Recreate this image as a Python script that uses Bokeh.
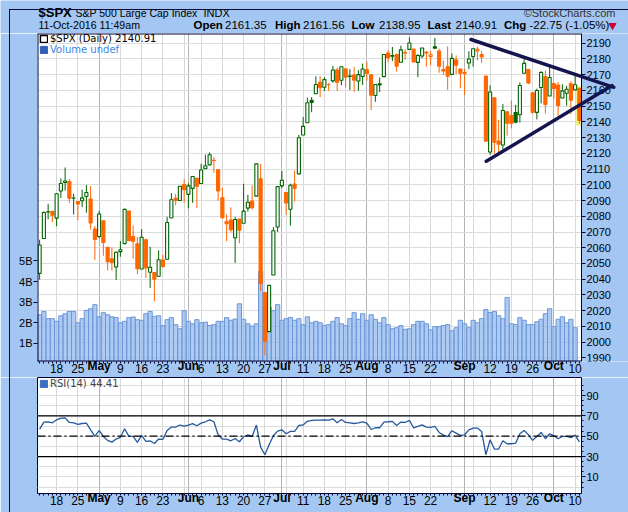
from bokeh.plotting import figure
from bokeh.models import (Range1d, LinearAxis, FixedTicker, PrintfTickFormatter, Span,
                          Legend, LegendItem, Grid, ColumnDataSource, Div)
from bokeh.embed import file_html
from bokeh.resources import INLINE
from bokeh.core.properties import value

# ---------------- data ----------------
trading_days = {
    "04": [12, 13, 14, 15, 18, 19, 20, 21, 22, 25, 26, 27, 28, 29],
    "05": [2, 3, 4, 5, 6, 9, 10, 11, 12, 13, 16, 17, 18, 19, 20, 23, 24, 25, 26, 27, 31],
    "06": [1, 2, 3, 6, 7, 8, 9, 10, 13, 14, 15, 16, 17, 20, 21, 22, 23, 24, 27, 28, 29, 30],
    "07": [1, 5, 6, 7, 8, 11, 12, 13, 14, 15, 18, 19, 20, 21, 22, 25, 26, 27, 28, 29],
    "08": [1, 2, 3, 4, 5, 8, 9, 10, 11, 12, 15, 16, 17, 18, 19, 22, 23, 24, 25, 26, 29, 30, 31],
    "09": [1, 2, 6, 7, 8, 9, 12, 13, 14, 15, 16, 19, 20, 21, 22, 23, 26, 27, 28, 29, 30],
    "10": [3, 4, 5, 6, 7, 10, 11],
}
dates = ["2016-%s-%02d" % (m, d) for m in sorted(trading_days) for d in trading_days[m]]

opens = [2043.72, 2065.92, 2082.89, 2083.10, 2078.83, 2096.05, 2101.52, 2102.09, 2091.49, 2089.37,
         2089.84, 2092.57, 2090.93, 2071.82, 2067.17, 2077.18, 2060.30, 2052.95, 2047.77, 2057.55,
         2062.63, 2083.29, 2067.17, 2062.50, 2046.53, 2065.04, 2044.38, 2044.21, 2041.88, 2052.23,
         2052.65, 2078.93, 2091.44, 2090.06, 2100.13, 2093.94, 2097.71, 2104.07, 2100.83, 2110.18,
         2112.71, 2115.65, 2109.57, 2091.75, 2076.65, 2077.60, 2066.36, 2078.20, 2075.58, 2085.19,
         2089.75, 2092.80, 2103.81, 2031.45, 2006.67, 2042.69, 2073.17, 2099.34, 2095.05, 2084.43,
         2100.42, 2106.97, 2131.72, 2139.50, 2153.81, 2157.88, 2165.13, 2162.04, 2163.79, 2166.10,
         2172.91, 2166.47, 2173.71, 2168.97, 2169.81, 2166.05, 2168.83, 2173.15, 2169.94, 2156.81,
         2163.51, 2168.79, 2183.76, 2182.24, 2182.81, 2177.97, 2183.74, 2186.08, 2186.24, 2177.84,
         2181.90, 2184.24, 2181.58, 2187.81, 2185.09, 2173.29, 2175.10, 2170.19, 2179.45, 2173.56,
         2171.33, 2177.49, 2181.61, 2185.17, 2182.76, 2169.08, 2120.86, 2155.40, 2127.86, 2125.36,
         2146.48, 2143.99, 2145.94, 2144.58, 2170.94, 2173.29, 2158.54, 2146.04, 2161.85, 2168.90,
         2156.51, 2164.33, 2163.37, 2155.15, 2158.22, 2164.19, 2160.39, 2161.35]
highs = [2065.05, 2083.18, 2087.84, 2083.22, 2094.66, 2104.05, 2111.05, 2103.78, 2094.32, 2089.37,
         2096.87, 2099.89, 2099.30, 2073.85, 2083.42, 2077.18, 2060.30, 2060.23, 2057.72, 2064.15,
         2084.87, 2083.29, 2073.99, 2066.79, 2071.88, 2065.69, 2060.61, 2044.21, 2058.35, 2055.58,
         2079.67, 2094.73, 2094.30, 2099.06, 2103.48, 2100.97, 2105.26, 2104.07, 2113.36, 2119.22,
         2120.55, 2117.64, 2109.57, 2098.12, 2081.30, 2085.65, 2079.62, 2078.20, 2100.66, 2093.66,
         2099.71, 2113.32, 2113.32, 2031.45, 2036.09, 2073.13, 2098.94, 2108.71, 2095.05, 2100.72,
         2109.08, 2131.71, 2143.16, 2155.40, 2155.79, 2168.99, 2169.05, 2168.35, 2164.63, 2175.63,
         2174.56, 2175.11, 2173.71, 2173.54, 2174.98, 2172.85, 2177.09, 2178.29, 2170.20, 2163.79,
         2168.19, 2182.87, 2185.44, 2187.66, 2183.41, 2188.45, 2186.28, 2193.81, 2186.24, 2183.08,
         2187.03, 2185.00, 2185.15, 2193.42, 2186.66, 2179.00, 2187.94, 2183.48, 2182.27, 2173.79,
         2173.56, 2184.87, 2186.57, 2187.87, 2184.94, 2169.08, 2163.30, 2155.40, 2141.33, 2151.31,
         2146.48, 2153.61, 2150.80, 2165.11, 2179.99, 2173.75, 2158.54, 2161.13, 2172.40, 2172.67,
         2175.30, 2164.33, 2165.46, 2163.95, 2162.93, 2165.86, 2169.60, 2161.56]
lows = [2039.74, 2065.92, 2078.13, 2076.31, 2073.65, 2091.68, 2096.32, 2088.52, 2081.20, 2077.52,
        2085.80, 2082.31, 2071.62, 2052.28, 2066.11, 2054.89, 2045.55, 2045.77, 2039.45, 2054.31,
        2062.63, 2064.46, 2053.13, 2043.13, 2046.53, 2040.82, 2034.49, 2025.91, 2041.88, 2047.26,
        2052.65, 2078.93, 2087.08, 2090.06, 2088.66, 2085.10, 2088.59, 2085.36, 2100.83, 2110.18,
        2112.71, 2107.73, 2089.96, 2078.46, 2064.10, 2069.80, 2050.37, 2062.84, 2075.58, 2083.02,
        2084.36, 2092.80, 2032.57, 1991.68, 2006.67, 2042.69, 2070.00, 2097.90, 2080.86, 2074.02,
        2089.39, 2106.97, 2131.72, 2139.50, 2146.15, 2157.88, 2155.79, 2159.63, 2159.87, 2164.89,
        2159.75, 2163.24, 2161.95, 2160.18, 2159.07, 2159.74, 2163.49, 2166.21, 2147.58, 2152.80,
        2159.07, 2168.79, 2177.85, 2178.61, 2172.00, 2177.97, 2179.42, 2186.08, 2178.14, 2168.50,
        2180.46, 2175.13, 2175.96, 2186.80, 2171.25, 2169.74, 2160.39, 2170.19, 2170.41, 2161.35,
        2157.09, 2173.59, 2175.10, 2179.07, 2177.49, 2127.81, 2119.12, 2119.86, 2119.90, 2122.36,
        2131.20, 2135.91, 2139.17, 2139.57, 2170.94, 2163.97, 2145.04, 2141.55, 2151.79, 2145.20,
        2156.51, 2154.77, 2144.01, 2155.15, 2150.28, 2144.85, 2160.39, 2138.95]
closes = [2061.72, 2082.42, 2082.78, 2080.73, 2094.34, 2100.80, 2102.40, 2091.48, 2091.58, 2087.79,
          2091.70, 2095.15, 2075.81, 2065.30, 2081.43, 2063.37, 2051.12, 2050.63, 2057.14, 2058.69,
          2084.39, 2064.46, 2064.11, 2046.61, 2066.66, 2047.21, 2047.63, 2040.04, 2052.32, 2048.04,
          2076.06, 2090.54, 2090.10, 2099.06, 2096.95, 2099.33, 2105.26, 2099.13, 2109.41, 2112.13,
          2119.12, 2115.48, 2096.07, 2079.06, 2075.32, 2071.50, 2077.99, 2071.22, 2083.25, 2088.90,
          2085.45, 2113.32, 2037.41, 2000.54, 2036.09, 2070.77, 2098.86, 2102.95, 2088.55, 2099.73,
          2097.90, 2129.90, 2137.16, 2152.14, 2152.43, 2163.75, 2161.74, 2166.89, 2163.78, 2173.02,
          2165.17, 2175.03, 2168.48, 2169.18, 2166.58, 2170.06, 2173.60, 2170.84, 2157.03, 2163.79,
          2164.25, 2182.87, 2180.89, 2181.74, 2175.49, 2185.79, 2184.05, 2190.15, 2178.15, 2182.22,
          2187.02, 2183.87, 2182.64, 2186.90, 2175.44, 2172.47, 2169.04, 2180.38, 2176.12, 2170.95,
          2170.86, 2179.98, 2186.48, 2186.16, 2181.30, 2127.81, 2159.04, 2127.02, 2125.77, 2147.26,
          2139.16, 2139.12, 2139.76, 2163.12, 2177.18, 2164.69, 2146.10, 2159.93, 2171.37, 2151.13,
          2168.27, 2161.20, 2150.49, 2159.73, 2160.77, 2153.74, 2163.66, 2140.91]
close_before_first = 2041.99

volume_bn = [2.39, 2.55, 2.20, 2.20, 2.07, 2.34, 2.44, 2.55, 2.55, 2.00,
             2.20, 2.60, 2.68, 2.88, 2.29, 2.49, 2.39, 2.29, 2.25, 2.00,
             2.07, 2.25, 2.28, 2.15, 2.12, 2.44, 2.55, 2.31, 2.34, 1.86,
             2.15, 2.25, 1.91, 1.71, 2.59, 2.07, 1.95, 2.15, 2.00, 2.03,
             1.87, 1.91, 2.07, 2.07, 2.25, 2.12, 2.18, 2.92, 2.17, 1.95,
             1.84, 1.95, 4.50, 2.75, 2.75, 2.59, 2.88, 2.12, 2.20, 2.26,
             2.12, 2.20, 1.91, 2.29, 2.00, 2.07, 2.00, 1.87, 1.91, 2.07,
             2.25, 1.95, 1.86, 2.20, 2.49, 2.17, 2.44, 2.12, 2.39, 2.17,
             2.00, 2.25, 1.91, 1.71, 1.76, 1.86, 1.68, 1.71, 1.91, 2.07,
             2.07, 1.95, 1.66, 1.81, 1.81, 1.87, 1.91, 1.61, 1.76, 2.12,
             1.95, 1.76, 2.12, 2.00, 2.20, 2.64, 2.50, 2.55, 2.34, 2.20,
             3.23, 1.95, 1.91, 2.25, 2.12, 1.91, 1.91, 2.05, 2.17, 2.44,
             2.68, 1.81, 2.17, 2.29, 2.00, 2.17, 1.76, float("nan")]

rsi14 = [57.0, 63.8, 64.1, 63.2, 66.1, 67.7, 68.0, 63.5, 63.2, 61.6,
         62.5, 62.9, 56.3, 49.8, 55.4, 49.8, 45.9, 44.2, 47.2, 48.9,
         57.3, 49.8, 49.8, 43.9, 50.8, 44.9, 45.5, 42.9, 47.2, 46.9,
         55.7, 59.0, 59.0, 61.0, 60.0, 61.0, 62.3, 60.3, 62.9, 64.2,
         66.1, 64.2, 51.4, 47.2, 47.2, 45.5, 47.8, 44.6, 49.5, 51.4,
         49.8, 61.0, 39.3, 31.8, 41.6, 50.4, 55.0, 56.3, 52.4, 54.7,
         54.7, 60.6, 61.0, 64.6, 65.5, 65.8, 65.8, 66.1, 65.8, 67.1,
         63.2, 66.4, 63.5, 63.2, 62.5, 63.2, 64.2, 62.9, 56.6, 58.3,
         58.3, 63.9, 64.2, 64.6, 60.6, 63.9, 63.5, 65.5, 58.3, 59.6,
         61.2, 59.0, 58.6, 59.6, 53.7, 51.1, 49.5, 55.4, 53.1, 50.8,
         51.4, 56.3, 58.0, 58.0, 54.7, 31.8, 46.6, 37.4, 37.4, 45.5,
         42.6, 42.6, 43.2, 52.4, 55.7, 51.4, 45.9, 49.8, 53.7, 47.5,
         52.4, 50.4, 47.5, 49.8, 49.8, 48.5, 51.1, 44.41]

day_tick_dates = ["2016-04-18", "2016-04-25", "2016-05-09", "2016-05-16", "2016-05-23", "2016-06-06",
                  "2016-06-13", "2016-06-20", "2016-06-27", "2016-07-11", "2016-07-18", "2016-07-25",
                  "2016-08-08", "2016-08-15", "2016-08-22", "2016-09-12", "2016-09-19", "2016-09-26",
                  "2016-10-10"]
day_tick_labels = ["18", "25", "9", "16", "23", "6", "13", "20", "27", "11", "18", "25",
                   "8", "15", "22", "12", "19", "26", "10"]
month_tick_dates = ["2016-05-02", "2016-06-01", "2016-07-01", "2016-08-01", "2016-09-01", "2016-10-03"]
month_tick_labels = ["May", "Jun", "Jul", "Aug", "Sep", "Oct"]
unlabelled_week_dates = ["2016-05-31", "2016-07-05", "2016-08-29", "2016-09-06"]

price_ticks = list(range(1990, 2191, 10))
volume_ticks = [1, 2, 3, 4, 5]
rsi_ticks = [10, 30, 50, 70, 90]
rsi_levels = [30, 50, 70]

# trend lines drawn on the chart: (bar index, price) end points
trend_upper = [(101.5, 2192.4), (135.1, 2162.0)]
trend_lower = [(105.1, 2115.0), (134.7, 2163.1)]

header_title = "$SPX"
header_name = "S&P 500 Large Cap Index"
header_exch = "INDX"
header_brand = "\u00a9StockCharts.com"
header_date = "11-Oct-2016 11:49am"
header_fields = ["Open", "High", "Low", "Last", "Chg"]
header_values = ["2161.35", "2161.56", "2138.95", "2140.91", "-22.75 (-1.05%)"]

# ---------------- styles / layout ----------------
BG = "#a3c7f2"
FRAME = "#000033"
UP = "#006400"
DOWN = "#ff6600"
FONT = "Liberation Sans"
W = 628
HDR_H = 33
P1_TOP, P1_H = 33, 344
P2_TOP, P2_H = 377, 135
FRAME_L = 37
FRAME_W = 544
FRAME_H1, FRAME_H2 = 328, 116
BAR_PX = FRAME_W / 128.0
DAY_STANDOFF = 0
MONTH_STANDOFF = -17

n = len(dates)
idx = list(range(n))
pos = {d: i for i, d in enumerate(dates)}
day_ticks = [pos[d] for d in day_tick_dates]
month_ticks = [pos[d] for d in month_tick_dates]
week_grid = sorted(day_ticks + [pos[d] for d in unlabelled_week_dates])

P_TOP, PPU = 2196.2, 1.573
P_BOT = P_TOP - FRAME_H1 / PPU
X_END = -0.5 + (W - FRAME_L) / BAR_PX          # price frame runs to the right edge
VOL_BOT = 0.12
VOL_TOP = VOL_BOT + FRAME_H1 / 20.6


def place(top):
    return {"position": "absolute", "left": "0px", "top": "%dpx" % top}


def style_xaxis(ax, ticks, labels, bold):
    ax.ticker = FixedTicker(ticks=ticks, minor_ticks=([] if bold else idx))
    ax.major_label_overrides = {t: l for t, l in zip(ticks, labels)}
    ax.major_label_text_font = FONT
    ax.major_label_text_font_size = "12px"
    ax.major_label_text_font_style = "bold" if bold else "normal"
    ax.major_label_text_color = "black"
    ax.major_tick_out = 0
    ax.major_tick_in = 0
    ax.minor_tick_out = 0 if bold else 2
    ax.minor_tick_in = 0
    ax.minor_tick_line_color = FRAME
    ax.major_label_standoff = MONTH_STANDOFF if bold else DAY_STANDOFF
    ax.axis_line_color = None


def style_yaxis(ax, ticks):
    ax.ticker = FixedTicker(ticks=ticks)
    ax.major_label_text_font = FONT
    ax.major_label_text_font_size = "11px"
    ax.major_label_text_color = "black"
    ax.major_tick_out = 4
    ax.major_tick_in = 0
    ax.minor_tick_out = 0
    ax.minor_tick_in = 0
    ax.major_tick_line_color = FRAME
    ax.axis_line_color = None
    ax.major_label_standoff = 1


def add_time_guides(p):
    style_xaxis(p.xaxis[0], day_ticks, day_tick_labels, False)
    month_ax = LinearAxis()
    style_xaxis(month_ax, month_ticks, month_tick_labels, True)
    p.add_layout(month_ax, "below")
    p.add_layout(Grid(dimension=0, ticker=FixedTicker(ticks=week_grid), grid_line_color="#d9d9d9"))
    p.add_layout(Grid(dimension=0, ticker=FixedTicker(ticks=month_ticks), grid_line_color="#b4b4b4"))


# ---------------- header ----------------
hdr = figure(width=W, height=HDR_H, x_range=Range1d(0, W), y_range=Range1d(HDR_H, 0),
             x_axis_location=None, y_axis_location=None, output_backend="svg",
             toolbar_location=None, min_border=0, border_fill_color=BG,
             background_fill_color=BG, outline_line_color=None, styles=place(0))
hdr.grid.visible = False
field_x = [193, 274.5, 351, 427, 503.5]
value_x = [224.5, 302.5, 378.5, 455, 529]
hsrc = ColumnDataSource(dict(
    text=[header_title, header_name, header_exch, header_brand, header_date] + header_fields + header_values,
    x=[38, 75, 203, 615, 38] + field_x + value_x,
    y=[12, 12.5, 12.5, 12.5, 24.5] + [24.5] * 10,
    style=["bold", "normal", "normal", "normal", "normal"] + ["bold"] * 5 + ["normal"] * 5,
    size=["13px", "10.5px", "11px", "11px", "10.6px"] + ["11.5px"] * 10,
    align=["left", "left", "left", "right", "left"] + ["left"] * 10,
    color=["black", "black", "black", "#333333", "black"] + ["black"] * 10,
))
hdr.text(x="x", y="y", text="text", source=hsrc, text_font=value(FONT), text_font_size="size",
         text_font_style="style", text_align="align", text_baseline="middle", text_color="color")
hdr.scatter(x=[612], y=[25], marker="inverted_triangle", size=7, color="#cc0033")

# ---------------- price panel ----------------
p1 = figure(width=W, height=P1_H, x_range=Range1d(-0.5, X_END), y_range=Range1d(P_BOT, P_TOP),
            y_axis_location=None, output_backend="svg", toolbar_location=None,
            min_border_left=FRAME_L, min_border_right=0, min_border_top=0,
            min_border_bottom=P1_H - FRAME_H1, border_fill_color=BG, background_fill_color="white",
            outline_line_color=None, styles=place(P1_TOP))
p1.xgrid.visible = False
p1.extra_y_ranges = {"vol": Range1d(VOL_BOT, VOL_TOP)}
add_time_guides(p1)
p1.add_layout(Grid(dimension=1, ticker=FixedTicker(ticks=price_ticks), grid_line_color="#dcdcdc"))

pax = LinearAxis(fixed_location=n - 0.5)
style_yaxis(pax, price_ticks)
pax.formatter = PrintfTickFormatter(format="%d")
p1.add_layout(pax, "right")
vax = LinearAxis(y_range_name="vol")
style_yaxis(vax, volume_ticks)
vax.formatter = PrintfTickFormatter(format="%dB")
p1.add_layout(vax, "left")

p1.vbar(x=idx, top=volume_bn, bottom=0, width=1.0, y_range_name="vol",
        fill_color="#8ab5ee", fill_alpha=0.7, line_color="#6f97d6", line_width=1)

last = n - 1
p1.quad(left=[last - 0.75], right=[last + 0.75], top=[highs[last] + 1.3], bottom=[lows[last] - 1.2],
        fill_color="#f2f27a", line_color=None)

prev = [close_before_first] + closes[:-1]
colors = [UP if c >= pc else DOWN for c, pc in zip(closes, prev)]
fills = [col if c < o else "white" for c, o, col in zip(closes, opens, colors)]
csrc = ColumnDataSource(dict(x=idx, o=opens, h=highs, l=lows, c=closes, color=colors, fill=fills))
p1.segment(x0="x", y0="l", x1="x", y1="h", color="color", line_width=1, source=csrc)
p1.vbar(x="x", top="o", bottom="c", width=0.72, fill_color="fill", line_color="color",
        line_width=1.1, source=csrc)

# blue margin to the right of the price frame, and the frame border
p1.quad(left=[n - 0.5], right=[X_END + 1], bottom=[P_BOT - 5], top=[P_TOP + 5],
        fill_color=BG, line_color=None)
p1.multi_line(xs=[[-0.5, -0.5], [-0.5, n - 0.5], [-0.5, n - 0.5]],
              ys=[[P_BOT, P_TOP], [P_TOP, P_TOP], [P_BOT, P_BOT]], line_color=FRAME, line_width=2)
p1.segment(x0=[n - 0.5], y0=[P_BOT], x1=[n - 0.5], y1=[P_TOP], line_color=FRAME, line_width=1)

tx0 = [trend_upper[0][0], trend_lower[0][0]]
ty0 = [trend_upper[0][1], trend_lower[0][1]]
tx1 = [trend_upper[1][0], trend_lower[1][0]]
ty1 = [trend_upper[1][1], trend_lower[1][1]]
p1.segment(x0=tx0, y0=ty0, x1=tx1, y1=ty1, line_color="#14144e", line_width=3.5,
           line_cap="round", level="overlay")

icon_spx = p1.vbar(x=[-50], top=[0], width=0.5, fill_color="white", line_color="black", line_width=1.5)
icon_vol = p1.vbar(x=[-50], top=[0], width=0.5, fill_color="#2f5fb8", line_color="#2f5fb8")
leg1 = Legend(items=[LegendItem(label="$SPX (Daily) 2140.91", renderers=[icon_spx])],
              location=(2, FRAME_H1 - 11), label_text_color="black")
leg2 = Legend(items=[LegendItem(label="Volume undef", renderers=[icon_vol])],
              location=(2, FRAME_H1 - 22), label_text_color="#3c86e6")
for lg in (leg1, leg2):
    lg.label_text_font = "DejaVu Sans"
    lg.label_text_font_size = "10px"
    lg.glyph_width = 9
    lg.glyph_height = 9
    lg.label_height = 10
    lg.label_standoff = 2
    lg.padding = 0
    lg.margin = 0
    lg.spacing = 0
    lg.border_line_color = None
    lg.background_fill_alpha = 0
    p1.add_layout(lg)

# ---------------- RSI panel ----------------
R_BOT, R_TOP = -6.3, 107.7
p2 = figure(width=W, height=P2_H, x_range=Range1d(-0.5, n - 0.5), y_range=Range1d(R_BOT, R_TOP),
            y_axis_location="right", output_backend="svg", toolbar_location=None,
            min_border_left=FRAME_L, min_border_right=W - FRAME_L - FRAME_W, min_border_top=0,
            min_border_bottom=P2_H - FRAME_H2, border_fill_color=BG, background_fill_color="white",
            outline_line_color=FRAME, outline_line_width=1, styles=place(P2_TOP))
p2.xgrid.visible = False
add_time_guides(p2)
style_yaxis(p2.yaxis[0], rsi_ticks)
p2.yaxis[0].ticker = FixedTicker(ticks=rsi_ticks, minor_ticks=list(range(0, 101, 5)))
p2.yaxis[0].minor_tick_out = 2
p2.yaxis[0].minor_tick_line_color = FRAME
p2.ygrid.ticker = FixedTicker(ticks=list(range(0, 101, 10)))
p2.ygrid.grid_line_color = "#dcdcdc"
for lv in rsi_levels:
    p2.add_layout(Span(location=lv, dimension="width", line_color="black", line_width=1.2,
                       line_dash="8 3 2 3" if lv == 50 else "solid"))
p2.line(x=idx, y=rsi14, line_color="#26589e", line_width=1.3)
icon_rsi = p2.vbar(x=[-50], top=[0], width=0.5, fill_color="#3a6fc4", line_color="#3a6fc4")
leg3 = Legend(items=[LegendItem(label="RSI(14) 44.41", renderers=[icon_rsi])],
              location=(2, FRAME_H2 - 12), label_text_font="DejaVu Sans", label_text_font_size="10px",
              glyph_width=9, glyph_height=9, label_height=10, label_standoff=2, padding=0, margin=0,
              spacing=0, border_line_color=None, background_fill_alpha=0)
p2.add_layout(leg3)

frame_div = Div(text="", width=W, height=512,
                styles={"position": "absolute", "left": "0px", "top": "0px", "z-index": "10",
                        "pointer-events": "none", "outline": "1px solid #0a0a3a",
                        "outline-offset": "-5px"})

open("out.html", "w").write(file_html([hdr, p1, p2, frame_div], INLINE))
